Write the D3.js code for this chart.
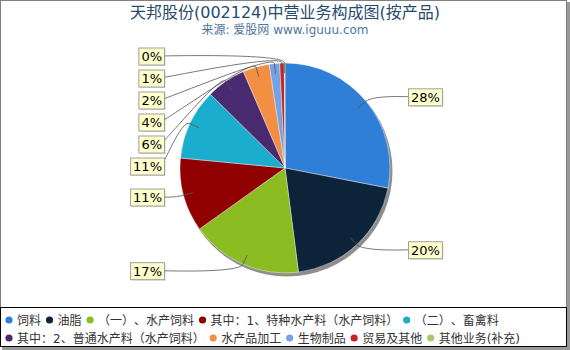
<!DOCTYPE html>
<html><head><meta charset="utf-8">
<script src="https://cdn.jsdelivr.net/npm/d3@7"></script>
<style>
html,body{margin:0;padding:0;background:#fff;}
svg{display:block;font-family:"DejaVu Sans","Noto Sans CJK SC",sans-serif;}
svg text{text-spacing-trim:space-all;font-feature-settings:"chws" 0,"halt" 0;}
</style></head>
<body>
<svg id="chart" width="570" height="350"></svg>
<script>
const title = "天邦股份(002124)中营业务构成图(按产品)";
const subtitle = "来源: 爱股网 www.iguuu.com";
const categories = ["饲料","油脂","（一）、水产饲料","其中：1、特种水产料（水产饲料）","（二）、畜禽料","其中：2、普通水产料（水产饲料）","水产品加工","生物制品","贸易及其他","其他业务(补充)"];
const values = [28.1, 19.9, 17.2, 11.4, 10.9, 6.1, 4.1, 1.6, 0.7, 0.1];
const colors = ["#2f7ed8","#0d233a","#8bbc21","#910000","#1aadce","#492970","#f28f43","#77a1e5","#c42525","#a6c96a"];

const W = 570, H = 350;
const svg = d3.select("#chart");

// frame
svg.append("rect").attr("x",2).attr("y",2).attr("width",W-2).attr("height",H-2).attr("fill","#999");
svg.append("rect").attr("x",0.5).attr("y",0.5).attr("width",W-4).attr("height",H-4)
  .attr("fill","#fff").attr("stroke","#808080").attr("stroke-width",1);

svg.append("text").attr("x",285).attr("y",18).attr("text-anchor","middle")
  .attr("font-size",16).attr("fill","#274b6d").text(title);
svg.append("text").attr("x",285).attr("y",34).attr("text-anchor","middle")
  .attr("font-size",12).attr("fill","#4d759e").text(subtitle);

const cx = 285, cy = 168, r = 105;
const total = d3.sum(values);
const pie = d3.pie().sort(null).value(d => d)(values);
const arc = d3.arc().innerRadius(0).outerRadius(r);

const g = svg.append("g").attr("transform",`translate(${cx},${cy})`);
// shadow
g.append("circle").attr("cx",2).attr("cy",3).attr("r",r+0.5).attr("fill","#8e8e8e");
g.selectAll("path.slice").data(pie).join("path").attr("class","slice")
  .attr("d",arc).attr("fill",(d,i)=>colors[i]).attr("stroke","#fff").attr("stroke-width",0.6).attr("stroke-opacity",0.7);

// labels
const Rlab = 112, spacing = 22;
const labels = pie.map((d,i)=>{
  const a = (d.startAngle+d.endAngle)/2;
  return {i, a, pct: Math.round(d.value/total*100), left: Math.sin(a) < 0, ny: cy - Rlab*Math.cos(a)};
});
["left","right"].forEach(side=>{
  const arr = labels.filter(l => (side==="left") === l.left).sort((p,q)=>p.ny-q.ny);
  let prev = -Infinity;
  arr.forEach(l => { l.y = Math.max(l.ny, prev + spacing); prev = l.y; });
});
const lg = svg.append("g");
const measure = svg.append("text").attr("font-size",13).attr("visibility","hidden");
labels.forEach(l=>{
  measure.text(l.pct + "%");
  const tw = measure.node().getComputedTextLength();
  const bw = tw + 5, bh = 17;
  const ex = l.left ? cx - 121 : cx + 123; // box edge touching connector
  const bx = l.left ? ex - bw : ex;
  const by = l.y - bh/2;
  const sa = Math.sin(l.a), ca = -Math.cos(l.a);
  const B = [cx + (r)*sa, cy + (r)*ca];
  const E = [cx + (r-10)*sa, cy + (r-10)*ca];
  const p = d3.path();
  p.moveTo(ex + (l.left ? -4 : 4), l.y);
  p.bezierCurveTo(ex, l.y, 2*B[0]-E[0], 2*B[1]-E[1], B[0], B[1]);
  p.lineTo(E[0], E[1]);
  lg.append("path").attr("d",p.toString()).attr("fill","none").attr("stroke","#555").attr("stroke-width",0.8);
  lg.append("rect").attr("x",bx+1.5).attr("y",by+1.5).attr("width",bw).attr("height",bh).attr("fill","#000").attr("opacity",0.15);
  lg.append("rect").attr("x",bx+0.5).attr("y",by+0.5).attr("width",bw).attr("height",bh)
    .attr("fill","#ffffcc").attr("stroke","#a0a0a0").attr("stroke-width",1);
  lg.append("text").attr("x",bx+0.5+bw/2).attr("y",by+13.5).attr("text-anchor","middle")
    .attr("font-size",13).attr("fill","#000").text(l.pct + "%");
});
measure.remove();

// legend
svg.append("rect").attr("x",0.5).attr("y",307.5).attr("width",566).attr("height",39)
  .attr("fill","none").attr("stroke","#000").attr("stroke-width",1);
const leg = svg.append("g");
const rowsY = [320, 338];
const rowBreak = 5;
let x0 = 5;
categories.forEach((c,i)=>{
  const row = i < rowBreak ? 0 : 1;
  if (i === rowBreak) x0 = 5;
  const y = rowsY[row];
  leg.append("circle").attr("cx",x0+4).attr("cy",y).attr("r",3.6).attr("fill",colors[i]);
  const t = leg.append("text").attr("x",x0+12).attr("y",y+4.5).attr("font-size",12).attr("fill","#333").text(c);
  x0 += 12 + t.node().getComputedTextLength() + 4.5;
});
</script>
</body></html>
